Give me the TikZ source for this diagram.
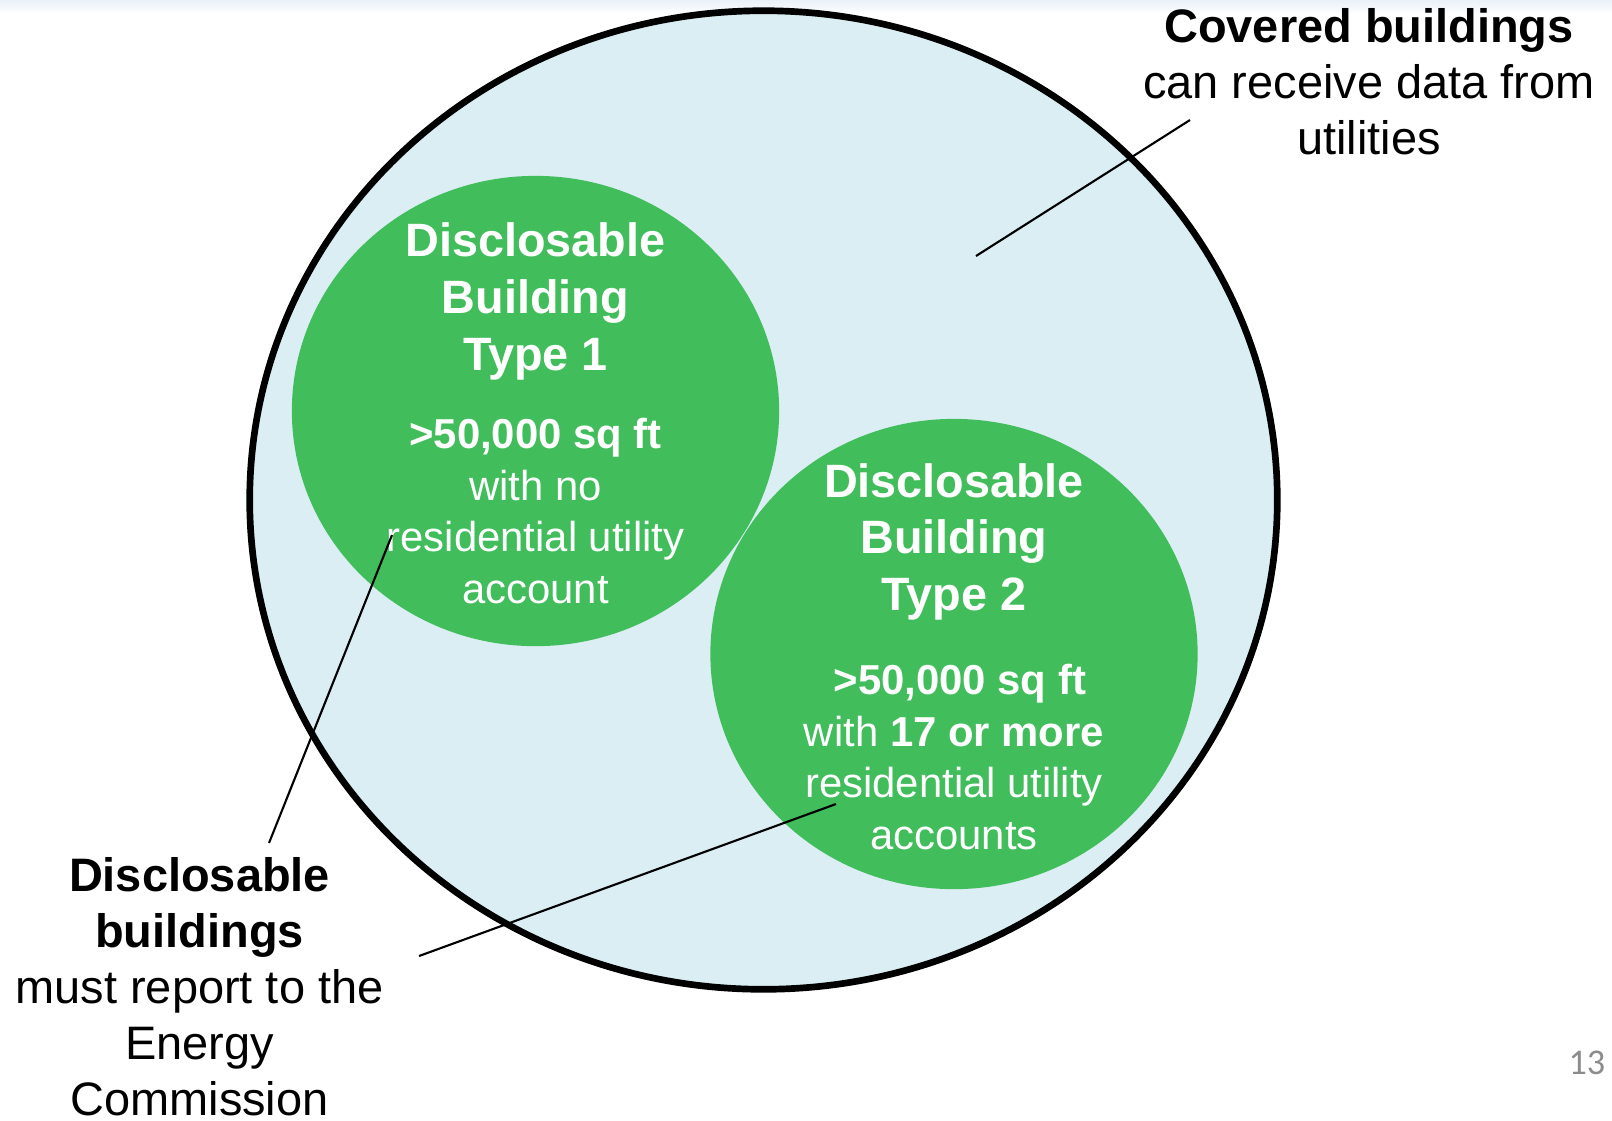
\documentclass[tikz,border=0pt]{standalone}
\usepackage{fontspec}
\setmainfont{Liberation Sans}
\newfontfamily\pagenofont{Carlito}
\usetikzlibrary{shapes.geometric}
\definecolor{venngreen}{RGB}{65,189,91}
\definecolor{vennblue}{RGB}{219,238,244}
\definecolor{topbar}{RGB}{234,241,248}
\tikzstyle{covered}=[
    ellipse,
    draw = black,
    line width = 1.9pt,
    fill = vennblue,
    inner sep = 0pt,
    minimum width = 10.27cm,
    minimum height = 9.78cm
]
\tikzstyle{disclosable}=[
    ellipse,
    fill = venngreen,
    inner sep = 0pt,
    minimum width = 4.87cm,
    minimum height = 4.70cm
]

\begin{document}
\begin{tikzpicture}[x=0.01cm, y=-0.01cm,
    head/.style = {text = white, align = center, inner sep = 0pt, anchor = base,
        font = \bfseries\fontsize{13.3}{16.1}\selectfont},
    body/.style = {text = white, align = center, inner sep = 0pt, anchor = base,
        font = \fontsize{11.9}{14.6}\selectfont},
    note/.style = {align = center, inner sep = 0pt, anchor = base,
        font = \fontsize{13.35}{15.9}\selectfont},
    pointer/.style = {draw, line width = 0.6pt}]
        \useasboundingbox (0,0) rectangle (1612,1120);
        \shade[top color = topbar, bottom color = white] (0,0) rectangle (1612,14);

        \node[covered] (all) at (763.5,500) {};
        \node[disclosable] (type1) at (535.5,411) {};
        \node[disclosable] (type2) at (954,654) {};

        % anchors sit on the last line
        \node[head] (head1) at (535.5,370) {Disclosable\\Building\\Type 1};
        \node[body] (body1) at (535.5,603) {\textbf{>50,000 sq ft}\\with no\\residential utility\\account};
        \node[head] (head2) at (954,610.5) {Disclosable\\Building\\Type 2};
        \node[body] (body2) at (954,849) {\hspace*{0.28em}\textbf{>50,000 sq ft}\\with \textbf{17 or more}\\residential utility\\accounts};

        \node[note] (covered note) at (1369,154) {\textbf{Covered buildings}\\can receive data from\\utilities};
        \node[note] (disclosable note) at (199.5,1115) {\textbf{Disclosable}\\\textbf{buildings}\\must report to the\\Energy\\Commission};

        \coordinate (covered tip) at (1190,120);
        \coordinate (covered end) at (976,256);
        \coordinate (note tip1) at (269,843);
        \coordinate (type1 end) at (392,535);
        \coordinate (note tip2) at (419,956);
        \coordinate (type2 end) at (836,804);

        \draw[pointer] (covered tip) -- (covered end);
        \draw[pointer] (note tip1) -- (type1 end);
        \draw[pointer] (note tip2) -- (type2 end);

        \node[anchor = base east, inner sep = 0pt, text = black!45,
            font = \pagenofont\fontsize{10.3}{12}\selectfont] (page) at (1606,1074) {13};
    \end{tikzpicture}
\end{document}
